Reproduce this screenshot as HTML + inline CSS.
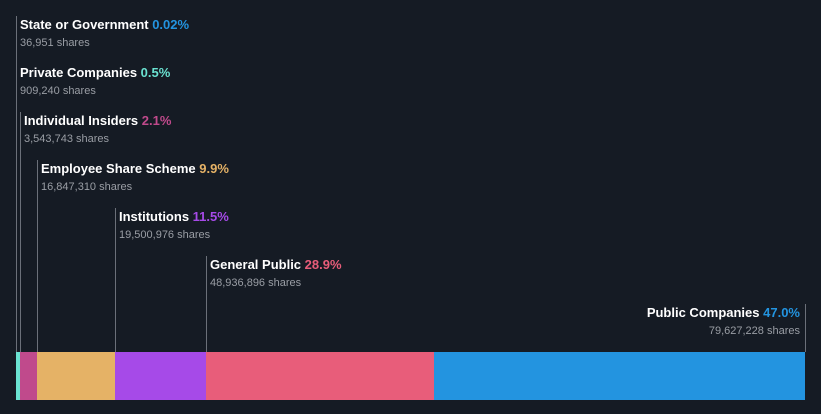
<!DOCTYPE html>
<html><head><meta charset="utf-8"><style>
html,body{margin:0;padding:0;background:#151b24;}
#c{position:relative;width:821px;height:414px;overflow:hidden;font-family:"Liberation Sans",Arial,sans-serif;}
.t{position:absolute;font-weight:bold;font-size:13px;color:#fff;white-space:nowrap;}
.s{position:absolute;font-size:11px;color:#9a9ea5;white-space:nowrap;}
.ln{position:absolute;width:1px;background:#6b7079;}
.seg{position:absolute;}
</style></head><body>
<div id="c"></div>
<script>
const categories=["State or Government","Private Companies","Individual Insiders","Employee Share Scheme","Institutions","General Public","Public Companies"];
const percents=[0.02,0.5,2.1,9.9,11.5,28.9,47.0];
const pctLabels=["0.02%","0.5%","2.1%","9.9%","11.5%","28.9%","47.0%"];
const shares=["36,951","909,240","3,543,743","16,847,310","19,500,976","48,936,896","79,627,228"];
const colors=["#2394e0","#6ae2d1","#c04a8c","#e5b266","#a64ae8","#e85d7a","#2394e0"];
const c=document.getElementById('c');
const x0=16,x1=805,barTop=352,barH=48;
const total=percents.reduce((a,b)=>a+b,0);
const xs=v=>x0+(v/total)*(x1-x0);
let cum=0;
categories.forEach((cat,i)=>{
  const left=xs(cum);cum+=percents[i];const right=xs(cum);
  const seg=document.createElement('div');seg.className='seg';
  
  
  seg.style.cssText=`left:${left}px;width:${Math.max(right-left,0.5)}px;top:${barTop}px;height:${barH}px;background:${colors[i]}`;
  c.appendChild(seg);
  const top=16+48*i;const last=i===categories.length-1;
  const lx=last?x1:Math.round(left);
  const ln=document.createElement('div');ln.className='ln';
  
  
  ln.style.cssText=`left:${lx}px;top:${top}px;height:${barTop-top}px`;
  c.appendChild(ln);
  const t=document.createElement('div');t.className='t';
  
  
  t.innerHTML=cat+' <span style="color:'+colors[i]+'">'+pctLabels[i]+'</span>';
  const s=document.createElement('div');s.className='s';
  
  
  s.textContent=shares[i]+' shares';
  if(last){t.style.right=(821-x1+5)+'px';s.style.right=(821-x1+5)+'px';}
  else{t.style.left=(lx+4)+'px';s.style.left=(lx+4)+'px';}
  t.style.top=(top+1)+'px';s.style.top=(top+21)+'px';
  c.appendChild(t);c.appendChild(s);
});
</script>
</body></html>
